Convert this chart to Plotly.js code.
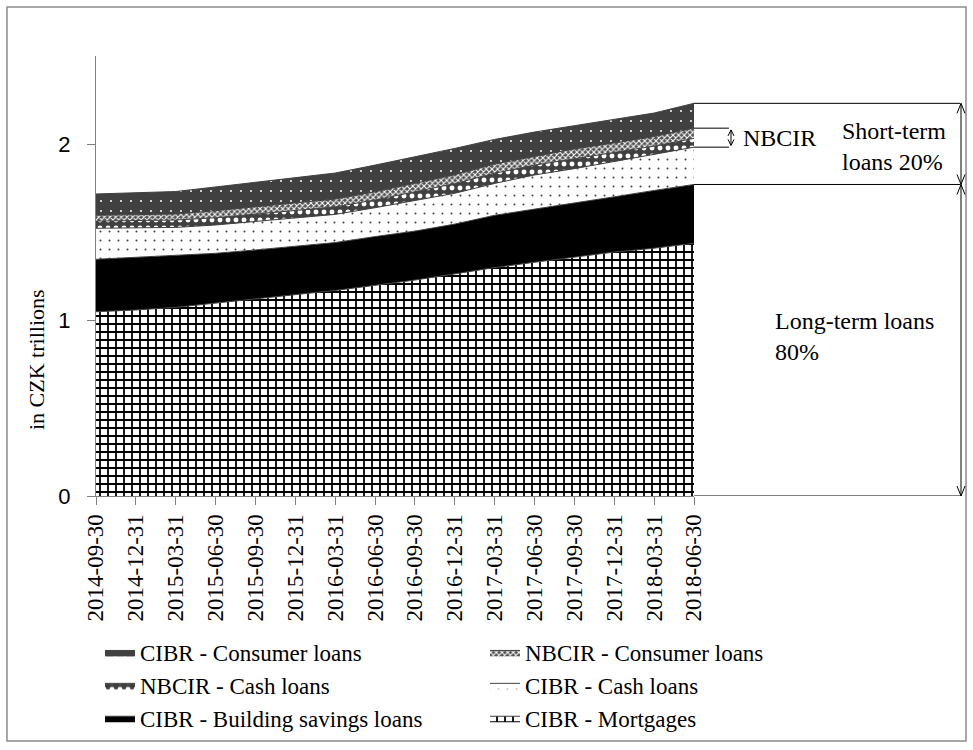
<!DOCTYPE html>
<html>
<head>
<meta charset="utf-8">
<script src="https://cdn.plot.ly/plotly-3.0.1.min.js"></script>
<style>
  html, body { margin: 0; padding: 0; background: #ffffff; }
  #chart { width: 973px; height: 750px; }
</style>
</head>
<body>
<div id="chart"></div>
<script>
// ---- data (in CZK trillions) ----
const dates = ["2014-09-30","2014-12-31","2015-03-31","2015-06-30","2015-09-30","2015-12-31",
               "2016-03-31","2016-06-30","2016-09-30","2016-12-31","2017-03-31","2017-06-30",
               "2017-09-30","2017-12-31","2018-03-31","2018-06-30"];
const cibrMortgages = [1.047,1.057,1.072,1.095,1.120,1.142,1.168,1.197,1.227,1.262,1.298,1.328,1.358,1.386,1.408,1.436];
const cibrBuildingSavings = [0.298,0.299,0.292,0.284,0.278,0.275,0.272,0.277,0.278,0.283,0.297,0.302,0.305,0.314,0.328,0.334];
const cibrCash = [0.176,0.168,0.162,0.161,0.162,0.163,0.160,0.164,0.175,0.175,0.181,0.194,0.197,0.200,0.202,0.212];
const nbcirCash = [0.041,0.041,0.042,0.041,0.041,0.040,0.043,0.044,0.048,0.055,0.058,0.056,0.056,0.054,0.050,0.050];
const nbcirConsumer = [0.033,0.033,0.034,0.040,0.042,0.043,0.044,0.046,0.047,0.050,0.052,0.050,0.056,0.052,0.054,0.058];
const cibrConsumer = [0.121,0.125,0.128,0.135,0.139,0.142,0.148,0.152,0.152,0.150,0.140,0.138,0.132,0.132,0.134,0.141];
const seriesNames = ["CIBR - Mortgages","CIBR - Building savings loans","CIBR - Cash loans",
                     "NBCIR - Cash loans","NBCIR - Consumer loans","CIBR - Consumer loans"];
const legendColumn = ["legend2","legend","legend2","legend","legend2","legend"];
const annText = {nbcir: "NBCIR", shortTerm: "Short-term<br>loans 20%", longTerm: "Long-term loans<br>80%"};
const yTitle = "in CZK trillions";

// ---- layout geometry ----
const W = 973, H = 750;
const ml = 96, mr = W - 694, mt = 56, mb = H - 496;
const pw = W - ml - mr, ph = H - mt - mb;
const px = v => (v - ml) / pw;          // pixel x -> paper x
const py = v => (H - mb - v) / ph;      // pixel y -> paper y
const yUnitPx = ph / 2.5;

const serif = "Liberation Serif";
const sans = "Liberation Sans";
const edge = "#404040";

const styles = [
  {fillcolor: "#ffffff", fillpattern: {shape: "+", bgcolor: "#ffffff", fgcolor: "#000000", size: 8, solidity: 0.4}},
  {fillcolor: "#000000"},
  {fillcolor: "#ffffff", fillpattern: {shape: ".", bgcolor: "#ffffff", fgcolor: "#404040", size: 9, solidity: 0.04}},
  {fillcolor: "#404040", fillpattern: {shape: ".", bgcolor: "#404040", fgcolor: "#ffffff", size: 8, solidity: 0.3}},
  {fillcolor: "#888888", fillpattern: {shape: "x", bgcolor: "#505050", fgcolor: "#ffffff", size: 4, solidity: 0.45}},
  {fillcolor: "#404040", fillpattern: {shape: ".", bgcolor: "#404040", fgcolor: "#ffffff", size: 10, solidity: 0.03}}
];
const values = [cibrMortgages, cibrBuildingSavings, cibrCash, nbcirCash, nbcirConsumer, cibrConsumer];

const traces = values.map((vals, i) => Object.assign({
  type: "scatter",
  mode: "lines",
  x: dates,
  y: vals,
  name: seriesNames[i],
  legend: legendColumn[i],
  stackgroup: "loans",
  line: {color: edge, width: 1},
  hoverinfo: "skip"
}, styles[i]));

// derived levels at the last date
const last = dates.length - 1;
const lvlLong = cibrMortgages[last] + cibrBuildingSavings[last];
const lvlCash = lvlLong + cibrCash[last];
const lvlNbcir = lvlCash + nbcirCash[last] + nbcirConsumer[last];
const lvlTotal = lvlNbcir + cibrConsumer[last];

const xRightEnd = px(960), xArrow = px(961), xSmall = px(731), xSmallEnd = px(729);
const hw = 4 / pw, hl = 10 / yUnitPx;
const shw = 3 / pw, shl = 6 / yUnitPx;

function vArrowHeadUp(x, y, w, l) { return `M${x - w},${y - l} L${x},${y} L${x + w},${y - l}`; }
function vArrowHeadDown(x, y, w, l) { return `M${x - w},${y + l} L${x},${y} L${x + w},${y + l}`; }

const black = {color: "#000000", width: 1};
const shapes = [
  // outer frame
  {type: "rect", xref: "paper", yref: "paper", x0: px(7), x1: px(966), y0: py(741), y1: py(7),
   line: {color: "#8c8c8c", width: 1.5}, layer: "below"},
  // level lines
  {type: "line", xref: "paper", yref: "y", x0: 1, x1: xRightEnd, y0: lvlTotal, y1: lvlTotal, line: black},
  {type: "line", xref: "paper", yref: "y", x0: 1, x1: xRightEnd, y0: lvlLong, y1: lvlLong, line: black},
  {type: "line", xref: "paper", yref: "y", x0: 1, x1: xRightEnd, y0: 0, y1: 0, line: black},
  {type: "line", xref: "paper", yref: "y", x0: 1, x1: xSmallEnd, y0: lvlCash, y1: lvlCash, line: black},
  {type: "line", xref: "paper", yref: "y", x0: 1, x1: xSmallEnd, y0: lvlNbcir, y1: lvlNbcir, line: black},
  // vertical arrows
  {type: "line", xref: "paper", yref: "y", x0: xArrow, x1: xArrow, y0: lvlTotal, y1: lvlLong, line: black},
  {type: "line", xref: "paper", yref: "y", x0: xArrow, x1: xArrow, y0: lvlLong, y1: 0, line: black},
  {type: "path", xref: "paper", yref: "y", path: vArrowHeadUp(xArrow, lvlTotal, hw, hl), line: black},
  {type: "path", xref: "paper", yref: "y", path: vArrowHeadDown(xArrow, lvlLong, hw, hl), line: black},
  {type: "path", xref: "paper", yref: "y", path: vArrowHeadUp(xArrow, lvlLong, hw, hl), line: black},
  {type: "path", xref: "paper", yref: "y", path: vArrowHeadDown(xArrow, 0, hw, hl), line: black},
  // small NBCIR arrow
  {type: "line", xref: "paper", yref: "y", x0: xSmall, x1: xSmall, y0: lvlCash + 0.01, y1: lvlNbcir - 0.01, line: black},
  {type: "path", xref: "paper", yref: "y", path: vArrowHeadUp(xSmall, lvlNbcir - 0.01, shw, shl), line: black},
  {type: "path", xref: "paper", yref: "y", path: vArrowHeadDown(xSmall, lvlCash + 0.01, shw, shl), line: black}
];

const annFont = {family: serif, size: 24, color: "#000000"};
const annotations = [
  {xref: "paper", yref: "paper", x: px(36), y: py(360), xanchor: "center", yanchor: "middle",
   text: yTitle, textangle: -90, showarrow: false, font: {family: serif, size: 22, color: "#000000"}},
  {xref: "paper", yref: "y", x: px(741), y: (lvlCash + lvlNbcir) / 2, xanchor: "left", yanchor: "middle",
   text: annText.nbcir, showarrow: false, font: annFont},
  {xref: "paper", yref: "y", x: px(840), y: (lvlTotal + lvlLong) / 2 - 0.015, xanchor: "left", yanchor: "middle",
   text: annText.shortTerm, showarrow: false, font: annFont, align: "left"},
  {xref: "paper", yref: "y", x: px(773), y: lvlLong / 2 + 0.02, xanchor: "left", yanchor: "middle",
   text: annText.longTerm, showarrow: false, font: annFont, align: "left"}
];

const legendBase = {
  orientation: "v",
  traceorder: "reversed",
  xref: "container", yref: "container",
  xanchor: "left",
  y: 1 - 631 / H, yanchor: "top",
  itemwidth: 30,
  font: {family: serif, size: 23, color: "#000000"},
  bgcolor: "rgba(0,0,0,0)",
  tracegroupgap: 0
};

const layout = {
  width: W, height: H,
  margin: {l: ml, r: mr, t: mt, b: mb, pad: 0, autoexpand: false},
  paper_bgcolor: "#ffffff",
  plot_bgcolor: "#ffffff",
  showlegend: true,
  hovermode: false,
  xaxis: {
    type: "category",
    range: [0, dates.length - 1],
    tickmode: "array",
    tickvals: dates,
    ticktext: dates,
    tickangle: -90,
    ticks: "outside", ticklen: 8, tickcolor: "#808080", tickwidth: 1,
    showline: true, linecolor: "#808080", linewidth: 1,
    showgrid: false, zeroline: false,
    tickfont: {family: serif, size: 23, color: "#000000"},
    automargin: false,
    fixedrange: true
  },
  yaxis: {
    range: [0, 2.5],
    dtick: 1, tick0: 0,
    ticks: "outside", ticklen: 8, tickcolor: "#808080", tickwidth: 1,
    showline: true, linecolor: "#808080", linewidth: 1,
    showgrid: false, zeroline: false,
    tickfont: {family: sans, size: 22, color: "#000000"},
    ticklabelstandoff: 12,
    automargin: false,
    fixedrange: true
  },
  legend: Object.assign({}, legendBase, {x: 100 / W}),
  legend2: Object.assign({}, legendBase, {x: 485 / W}),
  shapes: shapes,
  annotations: annotations
};

Plotly.newPlot("chart", traces, layout, {displayModeBar: false, staticPlot: true});
</script>
</body>
</html>
